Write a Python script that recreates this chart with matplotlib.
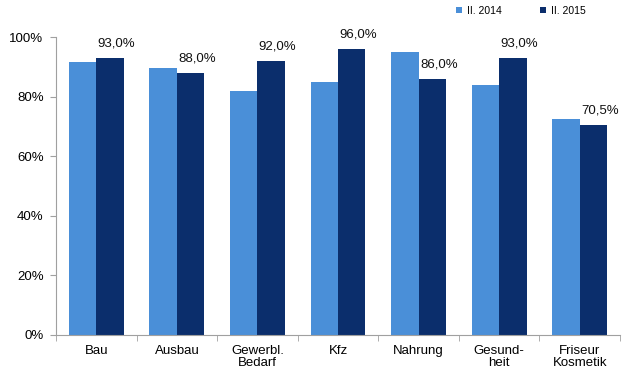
import numpy as np
import matplotlib.pyplot as plt
from matplotlib.ticker import FixedLocator

categories = ['Bau', 'Ausbau', 'Gewerbl.\nBedarf', 'Kfz', 'Nahrung', 'Gesund-\nheit', 'Friseur\nKosmetik']
vals_2014 = [91.5, 89.5, 82.0, 85.0, 95.0, 84.0, 72.5]
vals_2015 = [93.0, 88.0, 92.0, 96.0, 86.0, 93.0, 70.5]
labels_2015 = ['93,0%', '88,0%', '92,0%', '96,0%', '86,0%', '93,0%', '70,5%']
yticks = [0, 20, 40, 60, 80, 100]

plt.rcParams['font.family'] = ['Liberation Sans', 'DejaVu Sans']

fig = plt.figure(figsize=(6.38, 3.74), dpi=100)
ax = fig.add_axes([0.0878, 0.1043, 0.884, 0.7967])

x = np.arange(len(categories))
w = 0.34
light = '#4a8fd8'
dark = '#0b2e6c'
ax.bar(x - w / 2, vals_2014, w, color=light, label='II. 2014')
ax.bar(x + w / 2, vals_2015, w, color=dark, label='II. 2015')

for xi, v, s in zip(x, vals_2015, labels_2015):
    ax.text(xi + w / 2 + 0.08, v + 2.8, s, ha='center', va='bottom', fontsize=9.5, color='#111111')

ax.set_xlim(-0.5, len(categories) - 0.5)
ax.set_ylim(0, 100)
ax.set_yticks(yticks)
ax.set_yticklabels([f'{t}%' for t in yticks], fontsize=9.5)
ax.set_xticks(x)
ax.set_xticklabels(categories, fontsize=9.5, linespacing=1.0)
ax.xaxis.set_minor_locator(FixedLocator(np.arange(-0.5, len(categories), 1.0)))
ax.tick_params(axis='x', which='major', length=0, pad=7)
ax.tick_params(axis='x', which='minor', length=4, color='#a0a0a0', direction='out')
ax.tick_params(axis='y', length=4, color='#a0a0a0', pad=5)

for s in ['top', 'right']:
    ax.spines[s].set_visible(False)
for s in ['left', 'bottom']:
    ax.spines[s].set_color('#a0a0a0')

fig.legend(loc='upper left', bbox_to_anchor=(0.70, 1.01), ncol=2, frameon=False,
           fontsize=7.5, handlelength=0.6, handleheight=0.6, columnspacing=3.6, handletextpad=0.5)

fig.savefig('out.png', dpi=100)
